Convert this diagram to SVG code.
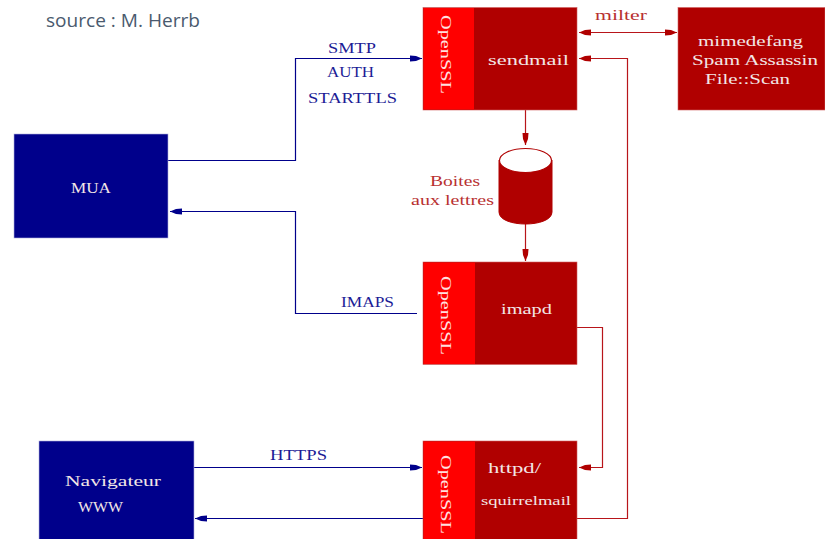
<svg xmlns="http://www.w3.org/2000/svg" width="825" height="539" viewBox="0 0 825 539">
<style>
text{font-family:"Liberation Serif","Times New Roman",serif;font-size:15px}
.w{fill:#f2e6e6}
.b{fill:#1c1c96}
.r{fill:#b83030}
.ssl{fill:#ffe0e0}
.dark{fill:#b00000;stroke:#d06060;stroke-width:.6}
.red{fill:#ff0000}
.navy{fill:#00008b;stroke:#b0b0dc;stroke-width:.6}
.cb{fill:none;stroke:#00008b;stroke-width:1.200}
.cr{fill:none;stroke:#b8151a;stroke-width:1.200}
</style>
<defs>
<marker id="ab" markerUnits="userSpaceOnUse" markerWidth="14" markerHeight="8" refX="13" refY="4" orient="auto-start-reverse"><path d="M1 1L7 1.500L13 4L7 6.500L1 7Z" fill="#00008b"/></marker>
<marker id="ar" markerUnits="userSpaceOnUse" markerWidth="14" markerHeight="8" refX="13" refY="4" orient="auto-start-reverse"><path d="M1 1L7 1.500L13 4L7 6.500L1 7Z" fill="#b00000"/></marker>
</defs>
<text id="source" x="46" y="27" textLength="154" lengthAdjust="spacingAndGlyphs" style="font-family:'Open Sans','DejaVu Sans',sans-serif;font-size:19px;fill:#4a5a6e">source : M. Herrb</text>
<g id="connectors">
<path class="cb" d="M168 160.500H295.500V58.500H422" marker-end="url(#ab)"/>
<path class="cb" d="M417 313.500H295.500V211.500H170" marker-end="url(#ab)"/>
<path class="cb" d="M194 467.500H422" marker-end="url(#ab)"/>
<path class="cb" d="M423 518.500H195" marker-end="url(#ab)"/>
<path class="cr" d="M579 32.500H677" marker-start="url(#ar)" marker-end="url(#ar)"/>
<path class="cr" d="M577 518.500H627.500V58.500H579" marker-end="url(#ar)"/>
<path class="cr" d="M577 327.500H602.500V467.500H579" marker-end="url(#ar)"/>
<path class="cr" d="M525.500 110V145" marker-end="url(#ar)"/>
<path class="cr" d="M525.500 224V261" marker-end="url(#ar)"/>
</g>
<g id="sendmail">
<rect class="dark" x="423" y="7.500" width="154" height="102.500"/>
<rect class="red" x="423.500" y="8" width="50.500" height="101.500"/>
<text class="ssl" transform="translate(441 15) rotate(90)" textLength="79" lengthAdjust="spacingAndGlyphs">OpenSSL</text>
<text class="w" x="488" y="65" textLength="81" lengthAdjust="spacingAndGlyphs">sendmail</text>
</g>
<g id="filters">
<rect class="dark" x="678" y="7.500" width="147" height="102.500"/>
<text class="w" x="698" y="46" textLength="105" lengthAdjust="spacingAndGlyphs">mimedefang</text>
<text class="w" x="692" y="65" textLength="126" lengthAdjust="spacingAndGlyphs">Spam Assassin</text>
<text class="w" x="705" y="84" textLength="85" lengthAdjust="spacingAndGlyphs">File::Scan</text>
</g>
<g id="mailboxes">
<path d="M499 160V212C499 228 552 228 552 212V160Z" fill="#b00000" stroke="#b00000"/>
<ellipse cx="525.500" cy="160.500" rx="26" ry="12" fill="#fff" stroke="#b00000" stroke-width="1.100"/>
<text class="r" x="430" y="186" textLength="50" lengthAdjust="spacingAndGlyphs">Boites</text>
<text class="r" x="411" y="205" textLength="83" lengthAdjust="spacingAndGlyphs">aux lettres</text>
</g>
<g id="imapd">
<rect class="dark" x="423" y="262" width="154" height="102.500"/>
<rect class="red" x="423.500" y="262.500" width="51.500" height="101.500"/>
<text class="ssl" transform="translate(441 276) rotate(90)" textLength="79" lengthAdjust="spacingAndGlyphs">OpenSSL</text>
<text class="w" x="501" y="314" textLength="51" lengthAdjust="spacingAndGlyphs">imapd</text>
</g>
<g id="httpd">
<rect class="dark" x="423" y="441" width="154" height="99"/>
<rect class="red" x="423.500" y="441.500" width="51.500" height="98"/>
<text class="ssl" transform="translate(441 455) rotate(90)" textLength="79" lengthAdjust="spacingAndGlyphs">OpenSSL</text>
<text class="w" x="488" y="473" textLength="53" lengthAdjust="spacingAndGlyphs">httpd/</text>
<text class="w" x="481" y="505" textLength="90" lengthAdjust="spacingAndGlyphs" style="font-size:13px">squirrelmail</text>
</g>
<g id="mua">
<rect class="navy" x="14" y="134" width="154" height="104"/>
<text class="w" x="71" y="193" textLength="40" lengthAdjust="spacingAndGlyphs">MUA</text>
</g>
<g id="navigateur">
<rect class="navy" x="39" y="441" width="155" height="99"/>
<text class="w" x="65" y="486" textLength="96" lengthAdjust="spacingAndGlyphs">Navigateur</text>
<text class="w" x="78" y="512" textLength="45" lengthAdjust="spacingAndGlyphs">WWW</text>
</g>
<g id="labels">
<text class="b" x="328" y="53" textLength="48" lengthAdjust="spacingAndGlyphs">SMTP</text>
<text class="b" x="327" y="77" textLength="47" lengthAdjust="spacingAndGlyphs">AUTH</text>
<text class="b" x="308" y="103" textLength="89" lengthAdjust="spacingAndGlyphs">STARTTLS</text>
<text class="b" x="341" y="307" textLength="53" lengthAdjust="spacingAndGlyphs">IMAPS</text>
<text class="b" x="270" y="460" textLength="57" lengthAdjust="spacingAndGlyphs">HTTPS</text>
<text class="r" x="595" y="20" textLength="52" lengthAdjust="spacingAndGlyphs">milter</text>
</g>
</svg>
